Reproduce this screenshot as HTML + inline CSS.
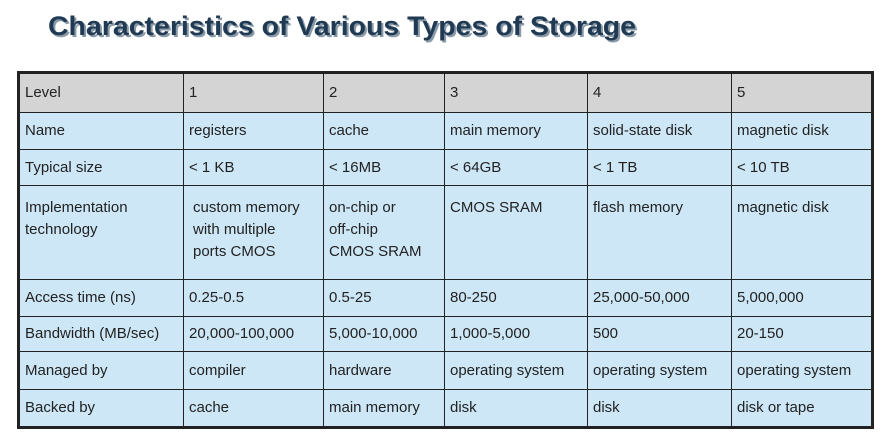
<!DOCTYPE html>
<html><head><meta charset="utf-8"><style>
body{margin:0;width:893px;height:446px;background:#fff;overflow:hidden;position:relative;font-family:"Liberation Sans",sans-serif;}
table{position:absolute;left:17px;top:71px;border-collapse:collapse;border:3px solid #222;}
td{border:1.5px solid #222;padding:0 0 0 5px;font-size:15px;color:#222;background:#cde7f6;vertical-align:middle;line-height:22px;}
tr.h td{background:#d4d4d4;}
tr.imp td{vertical-align:top;padding-top:11px;}
</style></head><body>
<svg style="position:absolute;left:0;top:0" width="893" height="60">
<text x="50" y="37" font-family="Liberation Sans" font-weight="bold" font-size="27" fill="#8a9aa8" textLength="588" lengthAdjust="spacingAndGlyphs">Characteristics of Various Types of Storage</text>
<text x="48" y="35" font-family="Liberation Sans" font-weight="bold" font-size="27" fill="#1f3a52" textLength="588" lengthAdjust="spacingAndGlyphs">Characteristics of Various Types of Storage</text>
</svg>
<table>
<colgroup><col style="width:165px"><col style="width:140px"><col style="width:121px"><col style="width:143px"><col style="width:144px"><col style="width:141px"></colgroup>
<tr class="h" style="height:40px"><td>Level</td><td>1</td><td>2</td><td>3</td><td>4</td><td>5</td></tr>
<tr style="height:37px"><td>Name</td><td>registers</td><td>cache</td><td>main memory</td><td>solid-state disk</td><td>magnetic disk</td></tr>
<tr style="height:36px"><td>Typical size</td><td>&lt; 1 KB</td><td>&lt; 16MB</td><td>&lt; 64GB</td><td>&lt; 1 TB</td><td>&lt; 10 TB</td></tr>
<tr class="imp" style="height:94px"><td>Implementation<br>technology</td><td style="padding-left:9px">custom memory<br>with multiple<br>ports CMOS</td><td>on-chip or<br>off-chip<br>CMOS SRAM</td><td>CMOS SRAM</td><td>flash memory</td><td>magnetic disk</td></tr>
<tr style="height:37px"><td>Access time (ns)</td><td>0.25-0.5</td><td>0.5-25</td><td>80-250</td><td>25,000-50,000</td><td>5,000,000</td></tr>
<tr style="height:35px"><td>Bandwidth (MB/sec)</td><td>20,000-100,000</td><td>5,000-10,000</td><td>1,000-5,000</td><td>500</td><td>20-150</td></tr>
<tr style="height:38px"><td>Managed by</td><td>compiler</td><td>hardware</td><td>operating system</td><td>operating system</td><td>operating system</td></tr>
<tr style="height:38px"><td>Backed by</td><td>cache</td><td>main memory</td><td>disk</td><td>disk</td><td>disk or tape</td></tr>
</table>
</body></html>
